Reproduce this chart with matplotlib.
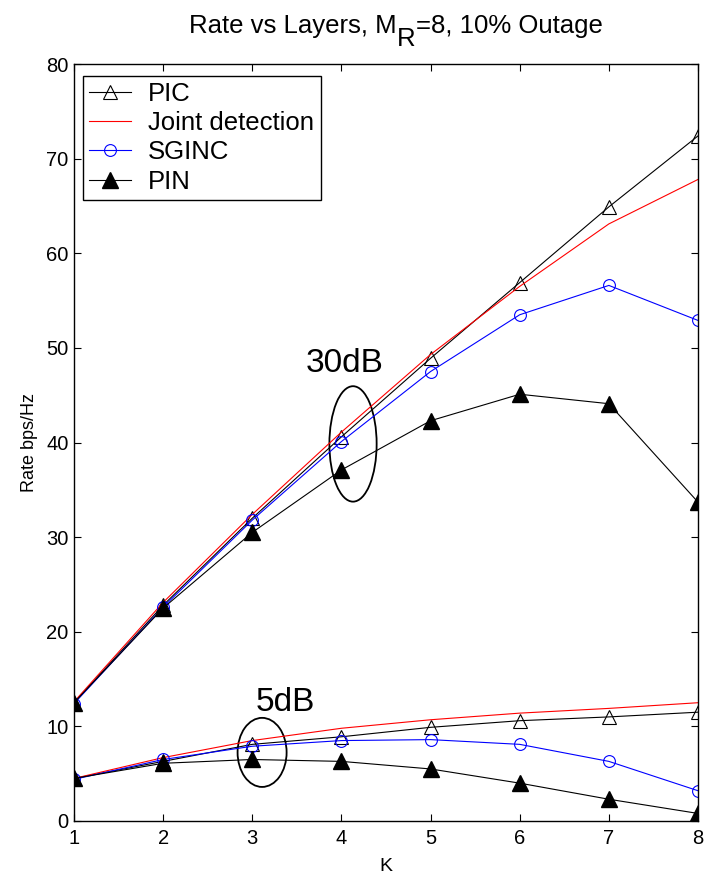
import matplotlib
matplotlib.use("Agg")
import matplotlib.pyplot as plt
from matplotlib.patches import Ellipse

plt.rcParams['font.family'] = ['Liberation Sans', 'DejaVu Sans']

K = [1, 2, 3, 4, 5, 6, 7, 8]

pic_30 = [12.5, 22.8, 32.0, 40.6, 48.9, 56.9, 64.9, 72.4]
joint_30 = [12.6, 23.1, 32.4, 41.1, 49.3, 56.5, 63.1, 67.8]
sginc_30 = [12.4, 22.6, 31.8, 40.1, 47.5, 53.5, 56.6, 52.9]
pin_30 = [12.5, 22.5, 30.5, 37.1, 42.3, 45.1, 44.1, 33.7]

pic_5 = [4.5, 6.3, 8.1, 8.9, 9.9, 10.6, 11.0, 11.5]
joint_5 = [4.5, 6.7, 8.5, 9.8, 10.7, 11.4, 11.9, 12.5]
sginc_5 = [4.4, 6.5, 7.9, 8.5, 8.6, 8.1, 6.3, 3.2]
pin_5 = [4.5, 6.1, 6.5, 6.3, 5.5, 4.0, 2.3, 0.8]

xticks = [1, 2, 3, 4, 5, 6, 7, 8]
yticks = [0, 10, 20, 30, 40, 50, 60, 70, 80]

W, H = 713, 876
fig = plt.figure(figsize=(W / 100, H / 100), dpi=100)
ax = fig.add_axes([74 / W, 1 - 821 / H, 624 / W, 757 / H])

lw = 0.8
l1, = ax.plot(K, pic_30, color='black', lw=lw, marker='^', ms=10.5, mfc='none', mec='black', mew=0.8, label='PIC')
ax.plot(K, pic_5, color='black', lw=lw, marker='^', ms=10.5, mfc='none', mec='black', mew=0.8)
l2, = ax.plot(K, joint_30, color='#ff0000', lw=lw, label='Joint detection')
ax.plot(K, joint_5, color='#ff0000', lw=lw)
l3, = ax.plot(K, sginc_30, color='#0000ff', lw=lw, marker='o', ms=8.5, mfc='none', mec='#0000ff', mew=0.8, label='SGINC')
ax.plot(K, sginc_5, color='#0000ff', lw=lw, marker='o', ms=8.5, mfc='none', mec='#0000ff', mew=0.8)
l4, = ax.plot(K, pin_30, color='black', lw=lw, marker='^', ms=11, mfc='black', mec='black', label='PIN')
ax.plot(K, pin_5, color='black', lw=lw, marker='^', ms=11, mfc='black', mec='black')

ax.set_xlim(1, 8)
ax.set_ylim(0, 80)
ax.set_xticks(xticks)
ax.set_yticks(yticks)
ax.tick_params(direction='in', length=5, width=0.8, top=True, right=True, labelsize=14.5)
ax.tick_params(axis='x', pad=6)
ax.tick_params(axis='y', pad=4)
for s in ax.spines.values():
    s.set_linewidth(1.0)

ax.set_xlabel('K', fontsize=14, labelpad=7)
fig.text(30 / W, 1 - 443 / H, 'Rate bps/Hz', rotation=90, fontsize=13, ha='center', va='center')

# ellipses and annotations
ax.add_patch(Ellipse((4.13, 39.85), 0.53, 12.2, fill=False, ec='black', lw=1.3))
ax.add_patch(Ellipse((3.11, 7.25), 0.55, 7.3, fill=False, ec='black', lw=1.3))
ax.text(4.04, 48.4, '30dB', fontsize=24, ha='center', va='center')
ax.text(3.37, 12.5, '5dB', fontsize=24, ha='center', va='center')

leg = ax.legend(handles=[l1, l2, l3, l4], loc='upper left', bbox_to_anchor=(0.0139, 0.9845),
                borderaxespad=0, fontsize=18.5, labelspacing=0.2, borderpad=0.25,
                handlelength=1.65, handletextpad=0.65, fancybox=False, framealpha=1,
                edgecolor='black')
leg.get_frame().set_linewidth(1.0)

# title with full-size lowered subscript
parts = [('Rate vs Layers, M', 0), ('R', 13), ('=8, 10% Outage', 0)]
fs_t = 18.5
texts = []
for s, dy in parts:
    texts.append(fig.text(0, 0, s, fontsize=fs_t, ha='left', va='baseline'))
fig.canvas.draw()
r = fig.canvas.get_renderer()
widths = [t.get_window_extent(renderer=r).width for t in texts]
total = sum(widths)
x = 396 - total / 2
base = 33
for t, w, (s, dy) in zip(texts, widths, parts):
    t.set_position((x / W, 1 - (base + dy) / H))
    x += w

fig.savefig('out.png', dpi=100)
